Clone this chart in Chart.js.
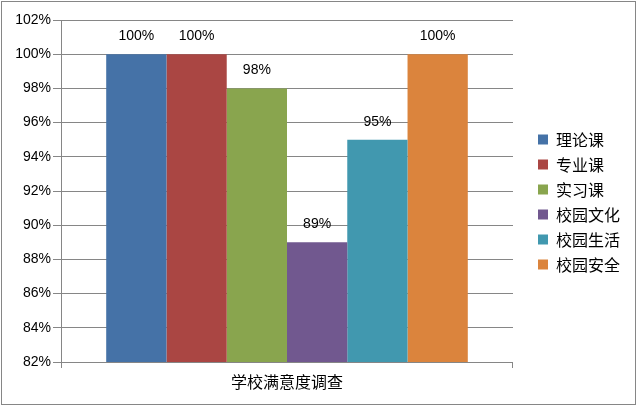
<!DOCTYPE html>
<html><head><meta charset="utf-8">
<script src="https://cdn.jsdelivr.net/npm/chart.js@4"></script>
<style>html,body{margin:0;padding:0;background:#fff}#wrap{width:637px;height:406px;position:relative}</style>
</head><body><div id="wrap"><canvas id="c" width="637" height="406"></canvas></div>
<script>
const categories = ['学校满意度调查'];
const seriesNames = ['理论课','专业课','实习课','校园文化','校园生活','校园安全'];
const seriesValues = [100, 100, 98, 89, 95, 100];
const seriesColors = ['#4572A7','#AA4643','#89A54E','#71588F','#4198AF','#DB843D'];
const yMin = 82, yMax = 102, yStep = 2;

const labelPlugin = {
  id: 'vlabels',
  afterDatasetsDraw(chart) {
    const ctx = chart.ctx;
    ctx.save();
    ctx.font = '14px "Liberation Sans", Arial, sans-serif';
    ctx.fillStyle = '#000';
    ctx.textAlign = 'center';
    ctx.textBaseline = 'middle';
    chart.data.datasets.forEach((ds, i) => {
      const meta = chart.getDatasetMeta(i);
      meta.data.forEach((bar, j) => {
        ctx.fillText(ds.data[j] + '%', bar.x, bar.y - 18);
      });
    });
    ctx.restore();
  }
};
const borderPlugin = {
  id: 'outerBorder',
  afterDraw(chart) {
    const ctx = chart.ctx;
    ctx.save();
    ctx.strokeStyle = '#868686';
    ctx.lineWidth = 1;
    ctx.strokeRect(1.5, 1.5, chart.width - 3, chart.height - 3);
    ctx.restore();
  }
};

new Chart(document.getElementById('c'), {
  type: 'bar',
  data: {
    labels: categories,
    datasets: seriesNames.map((n, i) => ({
      label: n,
      data: [seriesValues[i]],
      backgroundColor: seriesColors[i],
      borderWidth: 0,
      barPercentage: 1,
      categoryPercentage: 0.8
    }))
  },
  options: {
    responsive: false,
    animation: false,
    devicePixelRatio: 1,
    layout: { padding: { left: 0, top: 0, right: 7, bottom: 2 } },
    plugins: {
      title: {
        display: true, text: ' ', fullSize: false,
        font: { size: 10, lineHeight: 1 }, padding: 5
      },
      legend: {
        position: 'right',
        labels: {
          boxWidth: 10, boxHeight: 10, padding: 9,
          color: '#000',
          font: { family: '"Noto Sans CJK SC", sans-serif', size: 16 }
        }
      },
      tooltip: { enabled: false }
    },
    scales: {
      x: {
        grid: { display: true, drawOnChartArea: false, tickLength: 6, color: '#868686' },
        border: { color: '#868686' },
        ticks: { color: '#000', padding: 4, font: { family: '"Noto Sans CJK SC", sans-serif', size: 16 } },
        afterFit(s) { s.height = 42; }
      },
      y: {
        min: yMin, max: yMax,
        grid: { color: '#868686', tickLength: 8 },
        border: { color: '#868686' },
        ticks: {
          stepSize: yStep, color: '#000', padding: 2,
          font: { family: '"Liberation Sans", Arial, sans-serif', size: 14 },
          callback: v => v + '%'
        },
        afterFit(s) { s.width = 61; }
      },
      gap: {
        type: 'linear', position: 'right', display: true,
        grid: { display: false }, border: { display: false },
        ticks: { display: false },
        afterFit(s) { s.width = 16; }
      }
    }
  },
  plugins: [labelPlugin, borderPlugin]
});
</script></body></html>
